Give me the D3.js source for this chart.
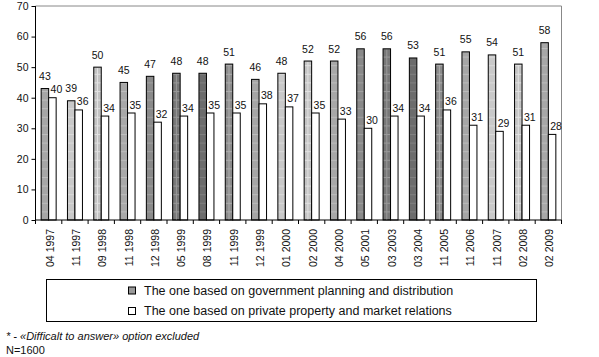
<!DOCTYPE html>
<html><head><meta charset="utf-8">
<script src="https://cdn.jsdelivr.net/npm/d3@7/dist/d3.min.js"></script>
<style>
body{margin:0;background:#fff;}
svg{display:block;font-family:"Liberation Sans",Arial,sans-serif;}
</style></head>
<body>
<svg id="chart" width="599" height="357"></svg>
<script>
const categories = ["04 1997","11 1997","09 1998","11 1998","12 1998","05 1999","08 1999","11 1999","12 1999","01 2000","02 2000","04 2000","05 2001","03 2003","03 2004","11 2005","11 2006","11 2007","02 2008","02 2009"];
const governmentPlanning = [43,39,50,45,47,48,48,51,46,48,52,52,56,56,53,51,55,54,51,58];
const privateProperty = [40,36,34,35,32,34,35,35,38,37,35,33,30,34,34,36,31,29,31,28];
const yTicks = [0,10,20,30,40,50,60,70];
const seriesNames = ["The one based on government planning and distribution","The one based on private property and market relations"];
const footnote = "* - «Difficalt to answer» option excluded";
const sampleNote = "N=1600";

// cyclic gray styles of the first series bars
const grayStyles = [
  {fill:"#a6a6a6", line:"#bcbcbc", grid:false},
  {fill:"#c9c9c9", line:"#dadada", grid:false},
  {fill:"#c3c3c3", line:"#e2e2e2", grid:true},
  {fill:"#a8a8a8", line:"#bdbdbd", grid:false},
  {fill:"#8a8a8a", line:"#a0a0a0", grid:false},
  {fill:"#777777", line:"#9a9a9a", grid:true},
  {fill:"#6c6c6c", line:"#808080", grid:false},
  {fill:"#8b8b8b", line:"#adadad", grid:true}
];

const svg = d3.select("#chart");
const X0 = 35.5, X1 = 561.5, YT = 6, YB = 220;

const x = d3.scaleBand().domain(categories).range([X0, X1]).paddingInner(0.43).paddingOuter(0.215);
const y = d3.scaleLinear().domain([0,70]).range([YB, YT]);
const bw = x.bandwidth()/2;

// patterns
const defs = svg.append("defs");
grayStyles.forEach((s,i)=>{
  const p = defs.append("pattern").attr("id","pat"+i).attr("patternUnits","userSpaceOnUse")
    .attr("width",4).attr("height",8.6).attr("y", YB);
  p.append("rect").attr("width",4).attr("height",8.6).attr("fill",s.fill);
  p.append("rect").attr("y",0).attr("width",4).attr("height",1).attr("fill",s.line);
});

// plot frame (top & right gray)
svg.append("path").attr("d",`M${X0},${YT}H${X1}V${YB}`).attr("fill","none").attr("stroke","#888").attr("stroke-width",1);

// bars
const g = svg.append("g");
categories.forEach((c,i)=>{
  const st = grayStyles[i % grayStyles.length];
  const gx = x(c);
  const gy = y(governmentPlanning[i]);
  g.append("rect").attr("x",gx).attr("y",gy).attr("width",bw).attr("height",YB-gy)
    .attr("fill",`url(#pat${i % grayStyles.length})`).attr("stroke","#000").attr("stroke-width",1);
  if (st.grid) {
    g.append("line").attr("x1",gx+bw/2).attr("x2",gx+bw/2).attr("y1",gy+1).attr("y2",YB)
      .attr("stroke",st.line).attr("stroke-width",1);
  }
  const wy = y(privateProperty[i]);
  g.append("rect").attr("x",gx+bw).attr("y",wy).attr("width",bw).attr("height",YB-wy)
    .attr("fill","#fff").attr("stroke","#000").attr("stroke-width",1);
  g.append("text").attr("x",gx+bw/2).attr("y",gy-8.5).attr("text-anchor","middle")
    .attr("font-size",10.5).attr("fill","#111").text(governmentPlanning[i]);
  g.append("text").attr("x",gx+bw*1.5+4).attr("y",wy-4.5).attr("text-anchor","middle")
    .attr("font-size",10.5).attr("fill","#111").text(privateProperty[i]);
});

// y axis
const yAxis = d3.axisLeft(y).tickValues(yTicks).tickSize(4).tickPadding(3);
const ya = svg.append("g").attr("transform",`translate(${X0},0)`).call(yAxis);
ya.select(".domain").attr("stroke","#000").attr("d",`M0,${YB}V${YT}`);
ya.selectAll("text").attr("font-size",10.5).attr("font-family","Liberation Sans, Arial, sans-serif").attr("fill","#111");

// x axis with ticks at category boundaries
svg.append("line").attr("x1",X0).attr("x2",X1).attr("y1",YB).attr("y2",YB).attr("stroke","#000");
const bounds = d3.range(categories.length+1).map(k=>X0 + k*x.step());
svg.append("g").selectAll("line").data(bounds).join("line")
  .attr("x1",d=>d).attr("x2",d=>d).attr("y1",YB).attr("y2",YB+4).attr("stroke","#000");
svg.append("g").selectAll("text").data(categories).join("text")
  .attr("transform",d=>`translate(${x(d)+x.bandwidth()/2+1},229) rotate(-90)`)
  .attr("text-anchor","end").attr("dominant-baseline","central")
  .attr("font-size",10.5).attr("fill","#111").text(d=>d);

// legend
const lg = svg.append("g");
lg.append("rect").attr("x",46.5).attr("y",279.5).attr("width",490).attr("height",42)
  .attr("fill","#fff").attr("stroke","#000");
const legItems = [{fill:"#9a9a9a"},{fill:"#fff"}];
seriesNames.forEach((n,i)=>{
  const ly = 290.5 + i*20.5;
  lg.append("rect").attr("x",128.5).attr("y",ly-3.5).attr("width",7).attr("height",7)
    .attr("fill",legItems[i].fill).attr("stroke","#000");
  lg.append("text").attr("x",144).attr("y",ly).attr("dominant-baseline","central")
    .attr("font-size",12.5).attr("fill","#111").text(n);
});

// footnotes
svg.append("text").attr("x",6).attr("y",340).attr("font-size",11).attr("font-style","italic")
  .attr("fill","#111").text(footnote);
svg.append("text").attr("x",6).attr("y",354).attr("font-size",11).attr("fill","#111").text(sampleNote);
</script>
</body></html>
